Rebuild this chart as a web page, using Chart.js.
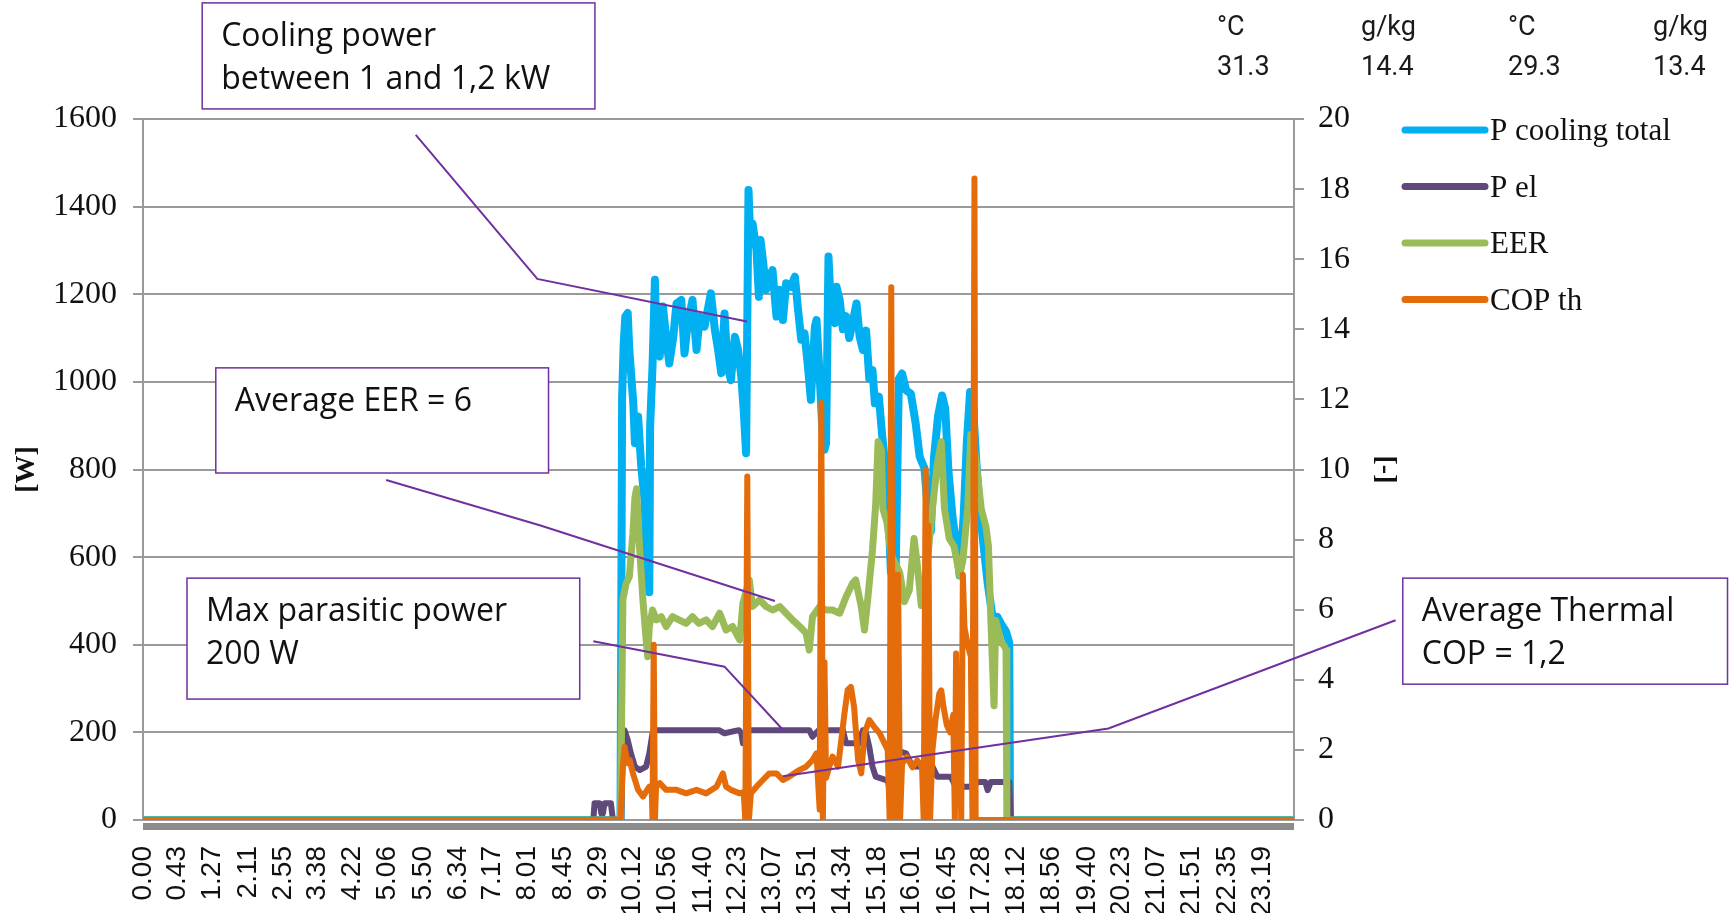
<!DOCTYPE html>
<html>
<head>
<meta charset="utf-8">
<script src="https://cdn.jsdelivr.net/npm/chart.js@4.4.1/dist/chart.umd.min.js"></script>
<style>
  html, body { margin: 0; padding: 0; background: #fff; }
  .wrap { width: 1731px; height: 913px; position: relative; }
</style>
</head>
<body>
<div class="wrap"><canvas class="js-chart"></canvas></div>
<script>
const context = document.querySelector('.js-chart').getContext('2d');

// x axis labels (h.mm)
const xTickLabels = ['0.00', '0.43', '1.27', '2.11', '2.55', '3.38', '4.22', '5.06', '5.50', '6.34',
  '7.17', '8.01', '8.45', '9.29', '10.12', '10.56', '11.40', '12.23', '13.07', '13.51', '14.34',
  '15.18', '16.01', '16.45', '17.28', '18.12', '18.56', '19.40', '20.23', '21.07', '21.51', '22.35', '23.19'];

// P cooling total [W], time in minutes after midnight
const coolTime = [0, 597, 599, 601, 603, 606, 608, 613, 615, 619, 621, 623, 627, 631, 633, 634, 637, 640, 642, 646,
  650, 654, 658, 663, 667, 673, 677, 681, 687, 692, 696, 702, 706, 710, 715, 719, 723, 727, 731, 735,
  740, 744, 748, 751, 754, 757, 759, 762, 767, 770, 772, 775, 779, 783, 787, 792, 796, 800, 804, 810,
  815, 819, 823, 827, 831, 835, 840, 842, 846, 849, 852, 854, 857, 860, 865, 867, 871, 875, 879, 883,
  887, 892, 896, 900, 904, 908, 912, 915, 920, 924, 931, 935, 941, 945, 949, 954, 960, 966, 971, 977,
  981, 985, 989, 994, 999, 1003, 1007, 1012, 1017, 1021, 1026, 1030, 1034, 1038, 1042, 1046, 1051, 1056, 1062, 1068,
  1073, 1079, 1083, 1084, 1439];
const coolValue = [0, 0, 966, 1088, 1149, 1157, 1073, 951, 860, 921, 860, 806, 730, 540, 520, 898, 1035, 1233, 1073, 1058,
  1172, 1103, 1042, 1103, 1179, 1187, 1065, 1134, 1187, 1073, 1149, 1126, 1164, 1202, 1118, 1073, 1020, 1156, 1035, 1004,
  1103, 1073, 1012, 936, 837, 1438, 1339, 1362, 1301, 1194, 1324, 1278, 1210, 1240, 1255, 1149, 1210, 1141, 1225, 1217,
  1240, 1164, 1096, 1111, 1042, 959, 1126, 1141, 1012, 905, 845, 860, 1286, 1172, 1134, 1217, 1187, 1120, 1150, 1100,
  1134, 1179, 1103, 1073, 1117, 1007, 1027, 951, 966, 880, 753, 566, 566, 1007, 1019, 981, 973, 905, 829, 803,
  710, 659, 829, 922, 969, 939, 795, 693, 625, 558, 693, 863, 977, 939, 812, 710, 625, 541, 464, 464,
  447, 430, 405, 0, 0];

// P el [W]
const pelTime = [0, 563, 564.5, 571, 573, 575, 577, 585, 587.5, 598, 600, 602, 606, 610, 615, 621, 629, 633, 637, 641,
  720, 727, 745, 748, 750, 754, 833, 837, 845, 875, 879, 896, 900, 904, 908, 912, 916, 931, 934, 937,
  941, 954, 962, 987, 993, 1010, 1016, 1033, 1045, 1053, 1056, 1060, 1083, 1085, 1439];
const pelValue = [0, 0, 38, 38, 15, 15, 38, 38, 0, 0, 205, 205, 183, 152, 122, 114, 122, 152, 198, 205,
  205, 198, 205, 198, 175, 205, 205, 190, 205, 205, 175, 175, 205, 198, 167, 122, 99, 90, 66, 99,
  159, 152, 122, 122, 99, 99, 76, 76, 87, 87, 68, 87, 87, 0, 0];

// EER [-]
const eerTime = [0, 597, 600, 604, 608, 612.5, 615, 617, 619, 621, 625, 629, 631, 633, 637, 642, 648, 654, 662, 670,
  679, 687, 695, 704, 712, 721, 729, 737, 746, 750, 758, 762, 771, 779, 787, 796, 804, 812, 821, 829,
  833, 837, 846, 854, 862, 871, 879, 887, 891, 898, 902, 906, 912, 916, 919, 923, 925, 930, 935, 941,
  946, 952, 958, 964, 968, 973, 979, 987, 993, 998, 1002, 1008, 1014, 1021, 1025, 1031, 1035, 1041, 1048, 1054,
  1057, 1060, 1064, 1066, 1073, 1077, 1079, 1080, 1439];
const eerValue = [0, 0, 6.3, 6.75, 6.94, 8.18, 9.2, 9.45, 8.6, 7.7, 6.28, 5.14, 4.66, 5.52, 5.99, 5.71, 5.8, 5.52, 5.8, 5.71,
  5.61, 5.8, 5.61, 5.71, 5.52, 5.9, 5.42, 5.52, 5.14, 6.18, 6.85, 6.09, 6.28, 6.09, 5.99, 6.09, 5.9, 5.71, 5.52, 5.33,
  4.85, 5.8, 6.09, 5.99, 5.99, 5.9, 6.37, 6.75, 6.85, 6.09, 5.42, 6.28, 7.7, 9.0, 10.79, 10.58, 8.88, 8.5, 7.6, 7.3,
  7.07, 6.23, 6.55, 8.03, 7.29, 6.12, 6.98, 8.88, 10.15, 10.79, 8.88, 8.03, 7.81, 6.98, 7.4, 8.88, 11.0, 10.36, 8.88, 8.35,
  7.81, 5.7, 3.26, 5.7, 5.07, 4.96, 4.85, 0, 0];

// COP th [-]
const copTime = [0, 597, 600, 602, 606, 608.5, 612.5, 619, 625, 633, 636, 637, 638.5, 640, 641.5, 646, 654, 667, 679, 692,
  704, 717, 725, 729, 735, 746, 751, 753, 755.5, 757.5, 760, 767, 775, 783, 792, 800, 808, 821, 829, 837,
  842, 846, 848, 850, 852, 854, 858, 862, 869, 877, 881, 885, 889, 894, 898, 902, 908, 914, 921, 931,
  933.5, 935.5, 937.5, 939.5, 941.5, 944, 946.5, 949, 955, 962, 968, 974, 976, 978.5, 980, 982, 984, 987, 991, 995.5,
  998, 1001, 1005, 1009, 1013, 1015, 1016.5, 1018.5, 1021, 1023, 1025, 1027, 1031, 1035, 1037, 1039.5, 1041, 1439];
const copValue = [0, 0, 1.5, 2.09, 1.62, 1.71, 1.33, 0.86, 0.67, 0.95, 0.9, 0, 5.0, 0, 0.95, 1.05, 0.86, 0.86, 0.76, 0.86,
  0.76, 0.95, 1.33, 0.95, 0.86, 0.76, 0.8, 0, 9.8, 0, 0.76, 0.95, 1.14, 1.33, 1.33, 1.14, 1.24, 1.43, 1.52, 1.71,
  1.9, 0.3, 11.9, 0, 4.5, 1.2, 1.52, 1.81, 1.52, 3.04, 3.71, 3.8, 3.23, 1.71, 1.33, 2.47, 2.85, 2.66, 2.47, 2.0,
  0, 15.2, 0, 1.5, 0, 7.0, 0, 1.6, 1.8, 1.5, 1.7, 1.5, 0, 10.0, 0, 8.4, 0, 2.0, 2.9, 3.6,
  3.7, 3.2, 2.7, 2.5, 3.0, 0, 4.75, 1.0, 2.5, 0, 7.0, 5.5, 5.0, 4.66, 0, 18.3, 0, 0];

// conditions table (top right)
const tableUnits = ['°C', 'g/kg', '°C', 'g/kg'];
const tableValues = ['31.3', '14.4', '29.3', '13.4'];

// callouts: box corners and leader points in axis units (minutes, W)
const notes = [
  { lines: ['Cooling power', 'between 1 and 1,2 kW'], box: [74, 565, 1865, 1623],
    leader: [[341, 1564], [493, 1235], [755, 1138]] },
  { lines: ['Average EER = 6'], box: [91, 507, 1032, 792],
    leader: [[304, 776], [497, 672], [790, 500]] },
  { lines: ['Max parasitic power', '200 W'], box: [55, 546, 552, 276],
    leader: [[563, 408], [727, 350], [800, 206]] },
  { lines: ['Average Thermal', 'COP = 1,2'], box: [1575, 1981, 552, 310],
    leader: [[1566, 456], [1207, 209], [800, 100]] },
];

const SERIF = "'Liberation Serif', 'DejaVu Serif', serif";
const SANS = "'Liberation Sans', Arial, sans-serif";
const NOTE_FONT = "32px 'Open Sans', 'Noto Sans', sans-serif";
const NOTE_COLOR = '#7030A0';
const GRID = '#9a9a9a';

function toMinutes(label) {
  const [h, m] = label.split('.');
  return Number(h) * 60 + Number(m);
}

function pairs(times, values) {
  return times.map((t, i) => ({ x: t, y: values[i] }));
}

const decorPlugin = {
  id: 'decor',
  beforeDatasetsDraw(chart) {
    const { ctx, chartArea } = chart;
    ctx.save();
    ctx.fillStyle = '#8c8c8c';
    ctx.fillRect(chartArea.left, chartArea.bottom + 3, chartArea.right - chartArea.left, 7);
    ctx.restore();
  },
  afterDraw(chart) {
    const { ctx, chartArea, scales } = chart;
    const x = scales.x;
    const y = scales.y;
    ctx.save();

    // callouts
    notes.forEach(note => {
      ctx.strokeStyle = NOTE_COLOR;
      ctx.lineWidth = 2;
      ctx.beginPath();
      note.leader.forEach(([t, v], i) => {
        const px = x.getPixelForValue(t);
        const py = y.getPixelForValue(v);
        if (i === 0) ctx.moveTo(px, py); else ctx.lineTo(px, py);
      });
      ctx.stroke();

      const left = x.getPixelForValue(note.box[0]);
      const right = x.getPixelForValue(note.box[1]);
      const top = y.getPixelForValue(note.box[2]);
      const bottom = y.getPixelForValue(note.box[3]);
      ctx.fillStyle = '#fff';
      ctx.fillRect(left, top, right - left, bottom - top);
      ctx.lineWidth = 1.5;
      ctx.strokeRect(left, top, right - left, bottom - top);

      ctx.fillStyle = '#111';
      ctx.font = NOTE_FONT;
      ctx.textAlign = 'left';
      ctx.textBaseline = 'middle';
      note.lines.forEach((line, i) => {
        ctx.fillText(line, left + 19, top + 34 + i * 43);
      });
    });

    // legend
    chart.data.datasets.forEach((ds, i) => {
      const ly = chartArea.top + 11 + i * 56.5;
      const lx = chartArea.right + 111;
      ctx.strokeStyle = ds.borderColor;
      ctx.lineWidth = 7;
      ctx.lineCap = 'round';
      ctx.beginPath();
      ctx.moveTo(lx, ly);
      ctx.lineTo(lx + 80, ly);
      ctx.stroke();
      ctx.fillStyle = '#111';
      ctx.font = '31px ' + SERIF;
      ctx.textAlign = 'left';
      ctx.textBaseline = 'middle';
      ctx.fillText(ds.label, lx + 85, ly + 2);
    });

    // conditions table
    const cols = [1217, 1361, 1508, 1653];
    ctx.fillStyle = '#1a1a1a';
    ctx.font = "27px Roboto, 'Noto Sans', sans-serif";
    ctx.textAlign = 'left';
    ctx.textBaseline = 'middle';
    cols.forEach((cx, i) => {
      ctx.fillText(tableUnits[i], cx, 28);
      ctx.fillText(tableValues[i], cx, 68);
    });

    ctx.restore();
  },
};

new Chart(context, {
  type: 'line',
  data: {
    datasets: [
      {
        label: 'P cooling total',
        data: pairs(coolTime, coolValue),
        borderColor: '#00B0F0',
        borderWidth: 8,
        yAxisID: 'y',
        order: 4,
      },
      {
        label: 'P el',
        data: pairs(pelTime, pelValue),
        borderColor: '#5F497A',
        borderWidth: 6,
        yAxisID: 'y',
        order: 3,
      },
      {
        label: 'EER',
        data: pairs(eerTime, eerValue),
        borderColor: '#9BBB59',
        borderWidth: 7,
        yAxisID: 'y1',
        order: 2,
      },
      {
        label: 'COP th',
        data: pairs(copTime, copValue),
        borderColor: '#E46C0A',
        borderWidth: 6,
        yAxisID: 'y1',
        order: 1,
      },
    ],
  },
  options: {
    responsive: true,
    maintainAspectRatio: false,
    devicePixelRatio: 1,
    animation: false,
    events: [],
    layout: { padding: { top: 119, right: 312, bottom: 0, left: 0 } },
    elements: {
      point: { radius: 0 },
      line: { tension: 0, borderJoinStyle: 'round', borderCapStyle: 'round' },
    },
    plugins: {
      legend: { display: false },
      tooltip: { enabled: false },
    },
    scales: {
      x: {
        type: 'linear',
        min: 0,
        max: 1439,
        grid: { display: false },
        border: { display: false },
        afterBuildTicks(scale) {
          scale.ticks = xTickLabels.map(label => ({ value: toMinutes(label) }));
        },
        afterFit(scale) {
          scale.height = 93;
        },
        ticks: {
          autoSkip: false,
          minRotation: 90,
          maxRotation: 90,
          padding: 18,
          color: '#111',
          font: { family: SANS, size: 28 },
          callback(value, index) {
            return xTickLabels[index];
          },
        },
      },
      y: {
        position: 'left',
        min: 0,
        max: 1600,
        afterFit(scale) {
          scale.width = 143;
        },
        grid: { color: GRID, lineWidth: 2, tickLength: 10 },
        border: { color: GRID, width: 2 },
        ticks: {
          stepSize: 200,
          padding: 16,
          color: '#111',
          font: { family: SERIF, size: 32 },
          callback(value) {
            return String(value);
          },
        },
        title: {
          display: true,
          text: '[W]',
          color: '#111',
          padding: { top: 10, bottom: 0 },
          font: { family: SERIF, size: 28, weight: 'bold' },
        },
      },
      y1: {
        position: 'right',
        min: 0,
        max: 20,
        afterFit(scale) {
          scale.width = 125;
        },
        grid: { drawOnChartArea: false, color: GRID, lineWidth: 2, tickLength: 10 },
        border: { color: GRID, width: 2 },
        ticks: {
          stepSize: 2,
          padding: 14,
          color: '#111',
          font: { family: SERIF, size: 32 },
          callback(value) {
            return String(value);
          },
        },
        title: {
          display: true,
          text: '[-]',
          color: '#111',
          padding: { top: 17, bottom: 0 },
          font: { family: SERIF, size: 28, weight: 'bold' },
        },
      },
    },
  },
  plugins: [decorPlugin],
});
</script>
</body>
</html>
